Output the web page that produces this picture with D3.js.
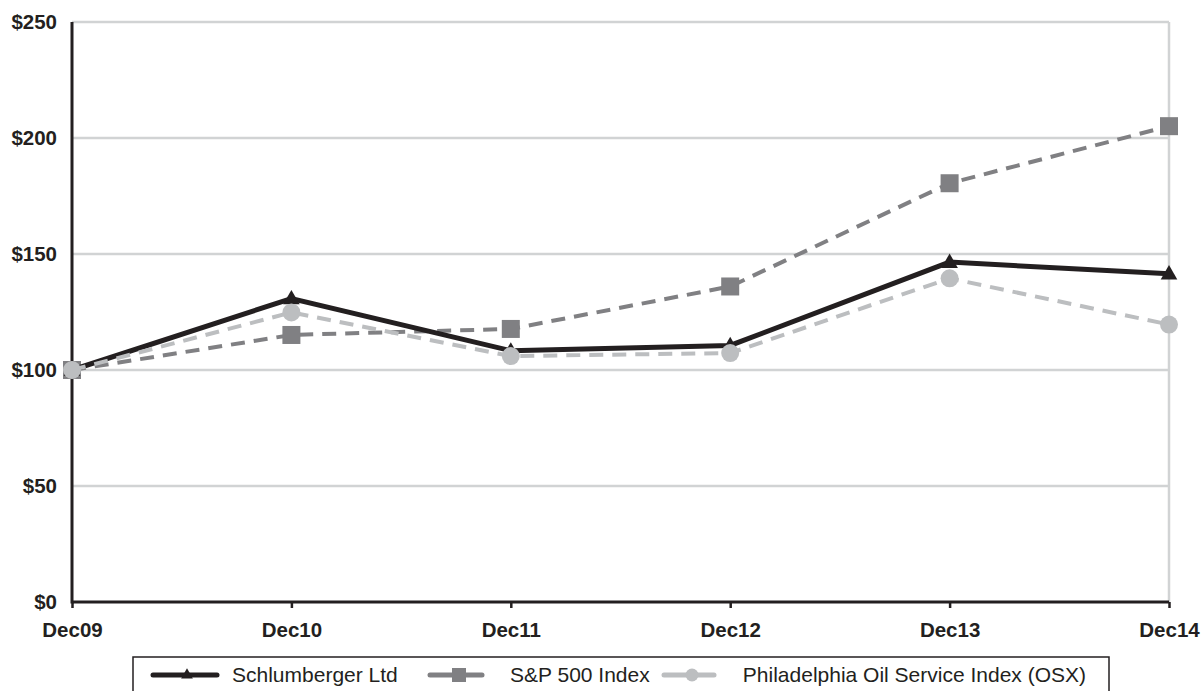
<!DOCTYPE html>
<html>
<head>
<meta charset="utf-8">
<script src="https://cdn.jsdelivr.net/npm/d3@7"></script>
<style>
  html, body { margin: 0; padding: 0; background: #fff; }
  svg { display: block; }
  text { font-family: "Liberation Sans", Arial, sans-serif; fill: #231f20; }
</style>
</head>
<body>
<svg id="chart" width="1202" height="691"></svg>
<script>
const categories = ["Dec09", "Dec10", "Dec11", "Dec12", "Dec13", "Dec14"];
const slbValues = [100, 130.8, 108.3, 110.6, 146.5, 141.5];
const spValues  = [100, 115.1, 117.7, 136.0, 180.5, 205.1];
const osxValues = [100, 124.8, 106.0, 107.3, 139.5, 119.6];
const yTicks = [0, 50, 100, 150, 200, 250];
const seriesNames = ["Schlumberger Ltd", "S&P 500 Index", "Philadelphia Oil Service Index (OSX)"];

(function () {
const svg = d3.select("#chart");
const pL = 72, pR = 1169, pT = 22, pB = 602;
const x = d3.scalePoint().domain(categories).range([pL, pR]);
const y = d3.scaleLinear().domain([0, 250]).range([pB, pT]);

const dark = "#231f20", mid = "#808083", light = "#bcbec0", grid = "#d1d3d4";

// gridlines
svg.append("g").selectAll("line").data(yTicks.filter(d => d > 0)).join("line")
  .attr("x1", pL).attr("x2", pR)
  .attr("y1", d => y(d)).attr("y2", d => y(d))
  .attr("stroke", grid).attr("stroke-width", 2.5);
svg.append("line").attr("x1", pR).attr("x2", pR).attr("y1", pT).attr("y2", pB)
  .attr("stroke", grid).attr("stroke-width", 2.5);

// y axis
const yAxis = svg.append("g").attr("transform", `translate(${pL},0)`)
  .call(d3.axisLeft(y).tickValues(yTicks).tickFormat(d => "$" + d).tickSize(0).tickPadding(15));
yAxis.select(".domain").attr("stroke", dark).attr("stroke-width", 3).attr("d", `M0,${pT}V${pB + 1.5}`);
yAxis.selectAll("text").attr("font-size", 20.5).attr("font-weight", "bold")
  .attr("font-family", "'Liberation Sans', Arial, sans-serif").attr("fill", dark);

// x axis
const xAxis = svg.append("g").attr("transform", `translate(0,${pB})`)
  .call(d3.axisBottom(x).tickSize(6).tickPadding(14));
xAxis.select(".domain").attr("stroke", dark).attr("stroke-width", 3).attr("d", `M${pL},0H${pR}`);
xAxis.selectAll(".tick line").attr("stroke", dark).attr("stroke-width", 2.5);
xAxis.selectAll("text").attr("font-size", 20.5).attr("font-weight", "bold")
  .attr("font-family", "'Liberation Sans', Arial, sans-serif").attr("fill", dark);

const line = d3.line().x((d, i) => x(categories[i])).y(d => y(d));

// S&P
svg.append("path").datum(spValues).attr("d", line).attr("fill", "none")
  .attr("stroke", mid).attr("stroke-width", 4).attr("stroke-dasharray", "14,9");
svg.append("g").selectAll("rect").data(spValues).join("rect")
  .attr("x", (d, i) => x(categories[i]) - 9).attr("y", d => y(d) - 9)
  .attr("width", 18).attr("height", 18).attr("fill", mid);

// SLB
svg.append("path").datum(slbValues).attr("d", line).attr("fill", "none")
  .attr("stroke", dark).attr("stroke-width", 5).attr("stroke-linejoin", "miter");
const tri = d3.symbol().type(d3.symbolTriangle).size(120);
svg.append("g").selectAll("path").data(slbValues).join("path")
  .attr("d", tri).attr("transform", (d, i) => `translate(${x(categories[i])},${y(d) + 1})`)
  .attr("fill", dark);

// OSX
svg.append("path").datum(osxValues).attr("d", line).attr("fill", "none")
  .attr("stroke", light).attr("stroke-width", 4).attr("stroke-dasharray", "14,9");
svg.append("g").selectAll("circle").data(osxValues).join("circle")
  .attr("cx", (d, i) => x(categories[i])).attr("cy", d => y(d)).attr("r", 9).attr("fill", light);

// legend
const lg = svg.append("g");
lg.append("rect").attr("x", 133).attr("y", 657).attr("width", 976).attr("height", 60)
  .attr("fill", "#fff").attr("stroke", dark).attr("stroke-width", 1.5);
const ly = 675;
lg.append("line").attr("x1", 153).attr("x2", 217).attr("y1", ly).attr("y2", ly)
  .attr("stroke", dark).attr("stroke-width", 5).attr("stroke-linecap", "round");
lg.append("path").attr("d", d3.symbol().type(d3.symbolTriangle).size(60)).attr("transform", `translate(187,${ly})`).attr("fill", dark);
lg.append("text").attr("x", 232).attr("y", ly + 7).attr("font-size", 21).text(seriesNames[0]);
lg.append("line").attr("x1", 430).attr("x2", 482).attr("y1", ly).attr("y2", ly)
  .attr("stroke", mid).attr("stroke-width", 5).attr("stroke-linecap", "round");
lg.append("rect").attr("x", 452).attr("y", ly - 7).attr("width", 14).attr("height", 14).attr("fill", mid);
lg.append("text").attr("x", 510).attr("y", ly + 7).attr("font-size", 21).text(seriesNames[1]);
lg.append("line").attr("x1", 664).attr("x2", 714).attr("y1", ly).attr("y2", ly)
  .attr("stroke", light).attr("stroke-width", 5).attr("stroke-linecap", "round");
lg.append("circle").attr("cx", 692).attr("cy", ly).attr("r", 6.5).attr("fill", light);
lg.append("text").attr("x", 1086).attr("y", ly + 7).attr("font-size", 21).attr("text-anchor", "end").text(seriesNames[2]);
})();
</script>
</body>
</html>
